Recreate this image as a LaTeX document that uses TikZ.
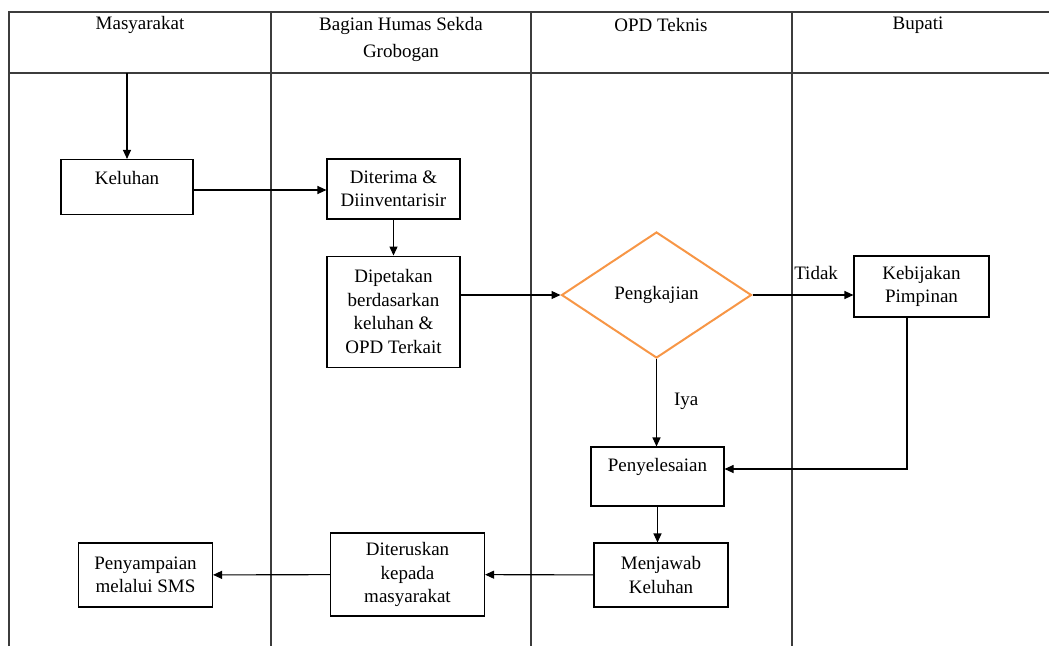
\documentclass[tikz,border=0pt]{standalone}
\usepackage{fontspec}
\setmainfont{Liberation Serif}
\usetikzlibrary{arrows.meta, positioning, shapes.geometric}
\definecolor{laneline}{RGB}{60, 60, 60}
\definecolor{kajiorange}{RGB}{247, 150, 70}

\begin{document}
\begin{tikzpicture}[x=1pt, y=-1pt, >={Triangle[length=9pt, width=8pt]}, line width=1.1pt,
    font=\fontsize{19}{23.5}\selectfont,
    box/.style={draw, line width=1.1pt, align=center, inner sep=0pt},
    lane/.style={draw=laneline, line width=1.1pt},
    lbl/.style={inner sep=0pt}]
      \useasboundingbox (0,0) rectangle (1049,646);
      % swimlanes
      \draw[lane] (9,646) -- (9,12) -- (1049,12);
      \draw[lane, line width=1.7pt] (9,73) -- (1049,73);
      \draw[lane] (271,12) -- (271,646);
      \draw[lane] (531,12) -- (531,646);
      \draw[lane] (792,12) -- (792,646);
      \node[lbl] (hm) at (140,25) {Masyarakat};
      \node[lbl, align=center, font=\fontsize{19}{27}\selectfont] (hb) at (401,39) {Bagian Humas Sekda\\Grobogan};
      \node[lbl] (ho) at (661,25) {OPD Teknis};
      \node[lbl] (hp) at (918,25) {Bupati};
      % steps
      \node[box, minimum width=132pt, minimum height=55pt] (kel) at (127,187) {Keluhan\\[-5.5pt]\mbox{}};
      \node[box, minimum width=133pt, minimum height=60pt] (dit) at (393.5,189) {Diterima \&\\Diinventarisir};
      \node[box, minimum width=133pt, minimum height=111pt, below=36pt of dit] (dip) {Dipetakan\\berdasarkan\\keluhan \&\\OPD Terkait};
      \node[diamond, draw=kajiorange, line width=2pt, inner sep=0pt, minimum width=190pt, minimum height=126pt] (kaji) at (656.5,295) {Pengkajian};
      \node[box, minimum width=135pt, minimum height=61pt] (keb) at (921.5,286.5) {Kebijakan\\Pimpinan};
      \node[box, minimum width=133pt, minimum height=59pt] (sel) at (657.5,476.5) {Penyelesaian\\\mbox{}};
      \node[box, minimum width=134pt, minimum height=64pt] (jwb) at (661,575) {Menjawab\\Keluhan};
      \node[box, minimum width=154pt, minimum height=83pt] (ter) at (407.5,574.5) {Diteruskan\\kepada\\masyarakat};
      \node[box, minimum width=134pt, minimum height=64pt] (sms) at (145.5,575) {Penyampaian\\melalui SMS};
      % flow
      \coordinate (kin) at (127,73);
      \coordinate (back) at (907,469);
      \draw[->] (kin) -- (kel);
      \draw[->] ([yshift=-3pt]kel.east) -- ([yshift=-3pt]kel.east -| dit.west);
      \draw[->] (dit) -- (dip);
      \draw[->] (kaji.west -| dip.east) -- (kaji.west);
      \draw[->] (kaji.east) -- (kaji.east -| keb.west) node[lbl, pos=0.63, above=15pt] {Tidak};
      \draw[->] (kaji.south) -- (kaji.south |- sel.north) node[lbl, pos=0.48, right=17pt] {Iya};
      \draw[->] (back |- keb.south) -- (back) -- (back -| sel.east);
      \draw[->] (sel.south) -- (sel.south |- jwb.north);
      \draw[->] (jwb) -- (ter);
      \draw[->] (ter) -- (sms);
    \end{tikzpicture}
\end{document}
